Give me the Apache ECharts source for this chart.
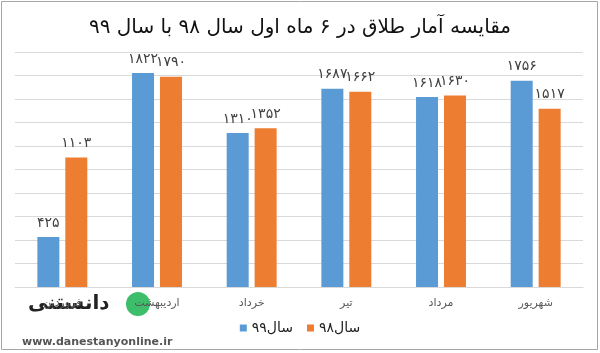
<!DOCTYPE html>
<html>
<head>
<meta charset="utf-8">
<script src="https://cdn.jsdelivr.net/npm/echarts@6/dist/echarts.min.js"></script>
<style>
  html, body { margin: 0; padding: 0; background: #fff; }
  #main { width: 600px; height: 353px; }
</style>
</head>
<body>
<div id="main"></div>
<script>
// داده‌ها
var months = ['فروردین', 'اردیبهشت', 'خرداد', 'تیر', 'مرداد', 'شهریور'];
var year99 = [425, 1822, 1310, 1687, 1618, 1756];
var year98 = [1103, 1790, 1352, 1662, 1630, 1517];
var seriesNames = ['سال۹۹', 'سال۹۸'];

// تبدیل عدد به ارقام فارسی
function faDigits(v) {
    return String(v).replace(/\d/g, function (d) { return '۰۱۲۳۴۵۶۷۸۹'[d]; });
}

(function () {
    var myChart = echarts.init(document.getElementById('main'));
    var font = 'DejaVu Sans';
    var option = {
        animation: false,
        color: ['#5B9BD5', '#ED7D31'],
        title: {
            text: 'مقایسه آمار طلاق در ۶ ماه اول سال ۹۸ با سال ۹۹',
            left: 'center',
            top: 13,
            textStyle: { fontFamily: font, fontSize: 20, fontWeight: 'normal', color: '#111' }
        },
        legend: {
            data: seriesNames,
            bottom: 13,
            left: 'center',
            itemWidth: 7,
            itemHeight: 7,
            itemGap: 14,
            icon: 'rect',
            textStyle: { fontFamily: font, fontSize: 14, color: '#222' }
        },
        grid: { left: 15, right: 17, top: 52, bottom: 66 },
        xAxis: {
            type: 'category',
            data: months,
            axisTick: { show: false },
            axisLine: { lineStyle: { color: '#D9D9D9' } },
            axisLabel: { color: '#595959', fontFamily: font, fontSize: 11, margin: 11 }
        },
        yAxis: {
            type: 'value',
            min: 0,
            max: 2000,
            interval: 200,
            axisLabel: { show: false },
            axisLine: { show: false },
            axisTick: { show: false },
            splitLine: { lineStyle: { color: '#D9D9D9' } }
        },
        series: [
            {
                name: seriesNames[0],
                type: 'bar',
                data: year99,
                barWidth: 22,
                barGap: '27%',
                label: {
                    show: true, position: 'top', distance: 7,
                    fontFamily: font, fontSize: 14, color: '#404040',
                    formatter: function (p) { return faDigits(p.value); }
                }
            },
            {
                name: seriesNames[1],
                type: 'bar',
                data: year98,
                barWidth: 22,
                label: {
                    show: true, position: 'top', distance: 7,
                    fontFamily: font, fontSize: 14, color: '#404040',
                    formatter: function (p) { return faDigits(p.value); }
                }
            }
        ],
        graphic: [
            // قاب بیرونی
            {
                type: 'rect', silent: true,
                shape: { x: 1.5, y: 1.5, width: 596, height: 348 },
                style: { fill: 'none', stroke: '#A6A6A6', lineWidth: 1 }
            },
            // واترمارک
            {
                type: 'circle', silent: true,
                shape: { cx: 138, cy: 304, r: 12 },
                style: { fill: '#3DBE6B' }
            },
            {
                type: 'text', silent: true, left: 28, top: 294,
                style: { text: 'دانستنی', font: 'bold 20px "DejaVu Sans"', fill: '#222' }
            },
            {
                type: 'text', silent: true, left: 22, top: 337,
                style: { text: 'www.danestanyonline.ir', font: 'bold 11px "DejaVu Sans"', fill: '#555' }
            }
        ]
    };
    myChart.setOption(option);
})();
</script>
</body>
</html>
